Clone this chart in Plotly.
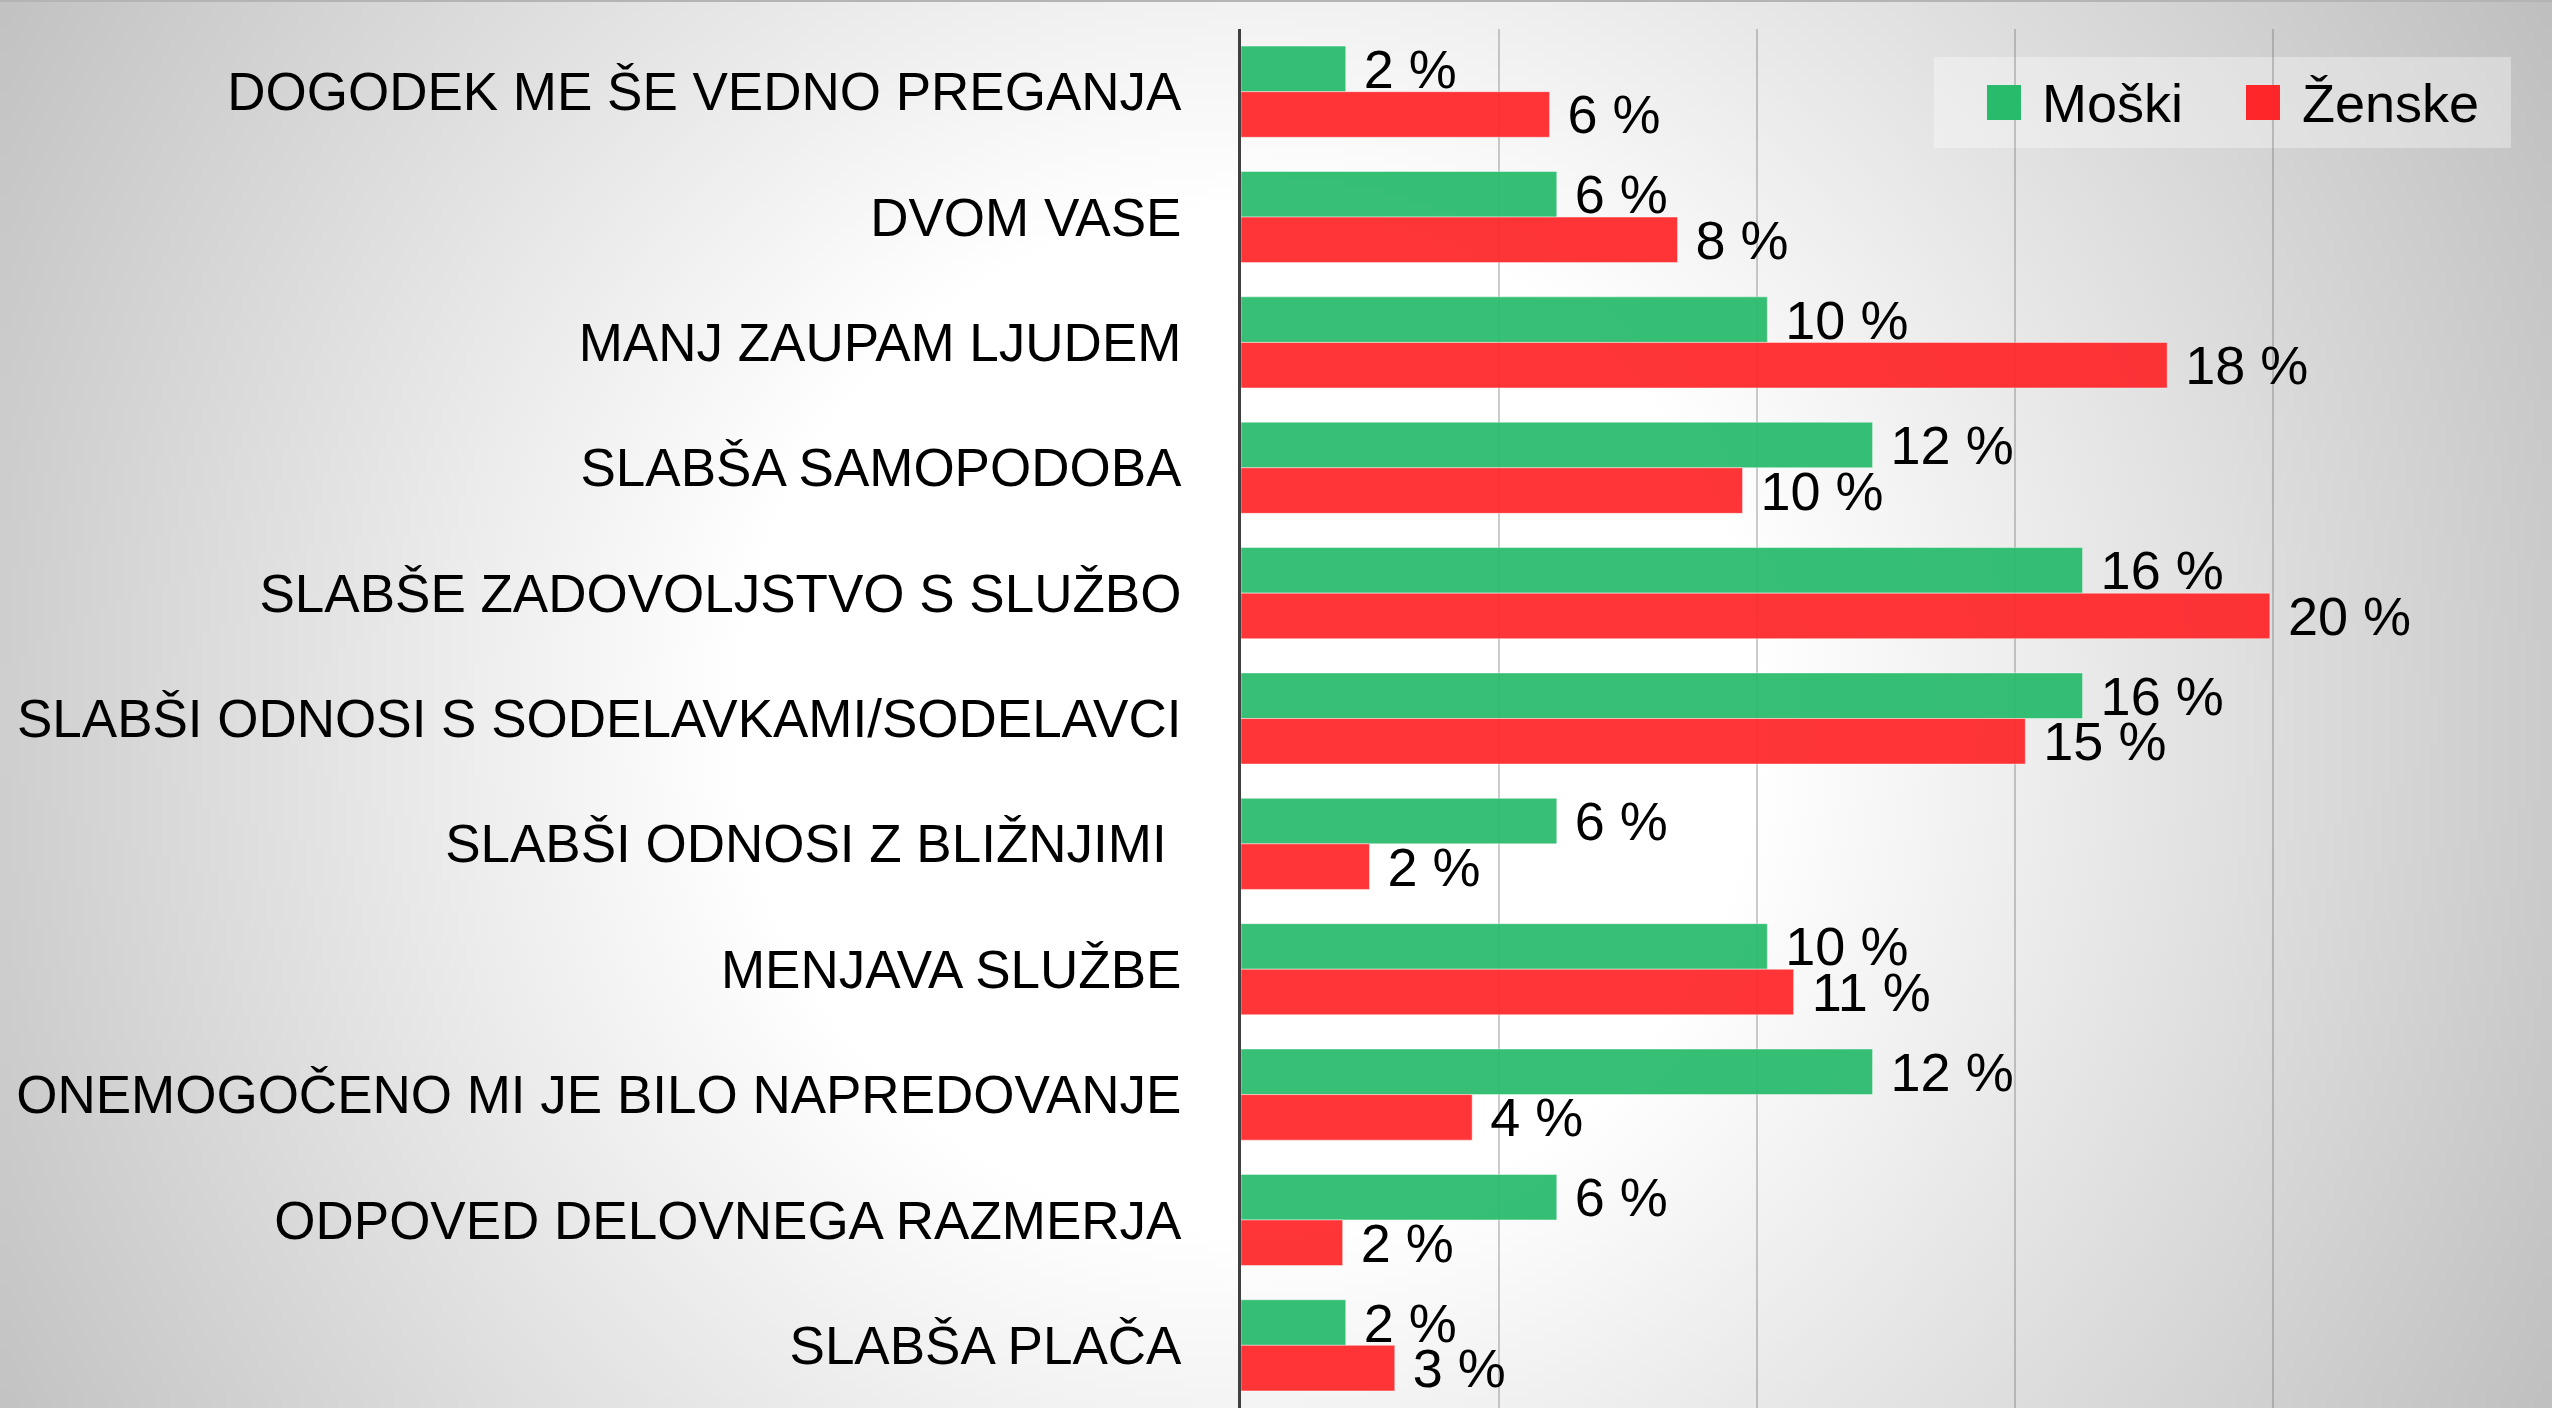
import base64, struct, zlib
import numpy as np
import plotly.graph_objects as go

categories = [
    "DOGODEK ME ŠE VEDNO PREGANJA",
    "DVOM VASE",
    "MANJ ZAUPAM LJUDEM",
    "SLABŠA SAMOPODOBA",
    "SLABŠE ZADOVOLJSTVO S SLUŽBO",
    "SLABŠI ODNOSI S SODELAVKAMI/SODELAVCI",
    "SLABŠI ODNOSI Z BLIŽNJIMI ",
    "MENJAVA SLUŽBE",
    "ONEMOGOČENO MI JE BILO NAPREDOVANJE",
    "ODPOVED DELOVNEGA RAZMERJA",
    "SLABŠA PLAČA",
]
moski = [2.03, 6.12, 10.2, 12.24, 16.31, 16.31, 6.12, 10.2, 12.24, 6.12, 2.03]
zenske = [5.98, 8.46, 17.95, 9.72, 19.94, 15.2, 2.49, 10.71, 4.48, 1.97, 2.98]
series_names = ["Moški", "Ženske"]
series_colors = ["#27BB6B", "#FF2629"]

W, H = 2552, 1408
ML, MR, MT, MB = 1241, 21, 29, 0
PW, PH = W - ML - MR, H - MT - MB
FONT = "Liberation Sans, Arial, sans-serif"
FS_TICK = 53
FS_LABEL = 54


def px2x(px):
    return (px - ML) / PW


def px2y(py):
    return 1 - (py - MT) / PH


def png_gray(arr):
    h, w = arr.shape
    raw = b"".join(b"\x00" + arr[i].tobytes() for i in range(h))

    def chunk(t, d):
        return struct.pack(">I", len(d)) + t + d + struct.pack(">I", zlib.crc32(t + d) & 0xFFFFFFFF)

    return (b"\x89PNG\r\n\x1a\n"
            + chunk(b"IHDR", struct.pack(">IIBBBBB", w, h, 8, 0, 0, 0, 0))
            + chunk(b"IDAT", zlib.compress(raw, 9))
            + chunk(b"IEND", b""))


# radial background gradient (white centre -> grey edges)
gw, gh = 320, 177
xs = (np.arange(gw) + 0.5) * W / gw
ys = (np.arange(gh) + 0.5) * H / gh
X, Y = np.meshgrid(xs, ys)
d = np.sqrt((X - 1250) ** 2 + (Y - 720) ** 2)
val = np.clip(255 - 0.066 * (d - 520), 188, 255).astype(np.uint8)
bg_uri = "data:image/png;base64," + base64.b64encode(png_gray(val)).decode()

fig = go.Figure()
for name, vals, col in zip(series_names, [moski, zenske], series_colors):
    fig.add_trace(go.Bar(
        y=categories, x=vals, orientation="h", name=name,
        marker=dict(color=col, opacity=0.93, line=dict(color="rgba(255,255,255,0.45)", width=1)),
        texttemplate="\u00a0%{x:.0f} %", textposition="outside",
        textfont=dict(family=FONT, size=FS_LABEL, color="black"),
        constraintext="none", cliponaxis=False, showlegend=False,
    ))

shapes = [
    dict(type="line", xref="paper", yref="paper", x0=px2x(0), x1=px2x(W),
         y0=px2y(1), y1=px2y(1), line=dict(color="#b4b4b4", width=2), layer="above"),
    dict(type="rect", xref="paper", yref="paper", x0=px2x(1934), x1=px2x(2511),
         y0=px2y(57), y1=px2y(148), fillcolor="rgba(255,255,255,0.35)", line=dict(width=0), layer="below"),
]
annotations = []
leg_items = [(1987, 2040), (2246, 2300)]
for (sq_x, tx), name, col in zip(leg_items, series_names, series_colors):
    shapes.append(dict(type="rect", xref="paper", yref="paper", x0=px2x(sq_x), x1=px2x(sq_x + 34),
                       y0=px2y(85), y1=px2y(120), fillcolor=col, line=dict(width=0), layer="above"))
    annotations.append(dict(xref="paper", yref="paper", x=px2x(tx), y=px2y(103), text=name,
                            showarrow=False, xanchor="left", yanchor="middle",
                            font=dict(family=FONT, size=FS_LABEL, color="black")))

fig.update_layout(
    width=W, height=H,
    margin=dict(l=ML, r=MR, t=MT, b=MB, pad=0, autoexpand=False),
    paper_bgcolor="#d8d8d8", plot_bgcolor="rgba(0,0,0,0)",
    barmode="group", bargap=0.273, bargroupgap=0,
    images=[dict(source=bg_uri, xref="paper", yref="paper", x=px2x(0), y=px2y(0),
                 sizex=W / PW, sizey=H / PH, xanchor="left", yanchor="top",
                 sizing="stretch", layer="below")],
    shapes=shapes, annotations=annotations,
    xaxis=dict(range=[0, 25], dtick=5, showgrid=True, gridcolor="rgba(110,110,110,0.35)", gridwidth=1.5,
               showticklabels=False, zeroline=False, showline=False, ticks="", automargin=False),
    yaxis=dict(type="category", categoryorder="array", categoryarray=categories, autorange="reversed",
               showgrid=False, zeroline=False, showline=True, linecolor="#404040", linewidth=3,
               ticks="outside", ticklen=46, tickcolor="rgba(0,0,0,0)", automargin=False,
               tickfont=dict(family=FONT, size=FS_TICK, color="black")),
    showlegend=False,
)

fig.write_html("out.html", config={"displayModeBar": False},
               post_script="document.body.style.margin='0';")
